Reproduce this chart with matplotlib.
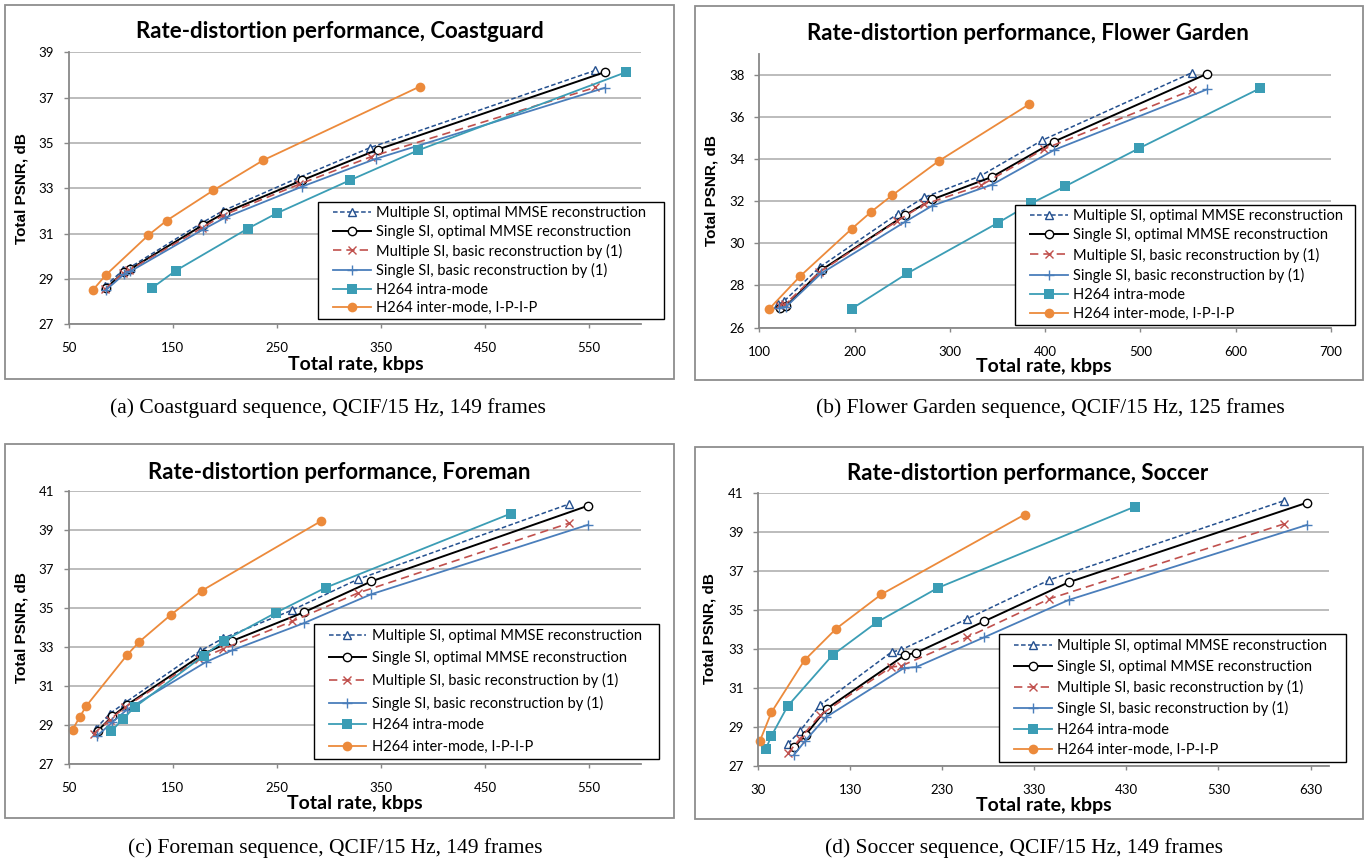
import matplotlib
matplotlib.use('Agg')
import matplotlib.pyplot as plt
from matplotlib.patches import Rectangle

W, H = 1369, 863
DPI = 100

# ---- Coastguard (a) ----
cg_mo_rate = [85, 102, 108.5, 177, 198, 270, 340, 556]
cg_mo_psnr = [28.68, 29.38, 29.5, 31.45, 32.0, 33.45, 34.8, 38.2]
cg_so_rate = [86, 103, 109, 179, 200, 274, 347, 565]
cg_so_psnr = [28.6, 29.3, 29.43, 31.38, 31.92, 33.35, 34.71, 38.12]
cg_mb_rate = [85, 102, 108, 178, 198, 271, 341, 556]
cg_mb_psnr = [28.55, 29.25, 29.38, 31.25, 31.8, 33.17, 34.4, 37.45]
cg_sb_rate = [86, 103, 109, 179, 200, 274, 345, 565]
cg_sb_psnr = [28.52, 29.2, 29.33, 31.18, 31.7, 33.07, 34.3, 37.43]
cg_intra_rate = [130, 153, 222, 250, 320, 386, 586]
cg_intra_psnr = [28.6, 29.37, 31.22, 31.9, 33.35, 34.68, 38.13]
cg_inter_rate = [73, 86, 126.5, 144, 189, 237, 387.5]
cg_inter_psnr = [28.5, 29.19, 30.93, 31.57, 32.91, 34.24, 37.49]

# ---- Flower Garden (b) ----
fg_mo_rate = [120, 126, 163.5, 245.5, 272.8, 332, 397, 554]
fg_mo_psnr = [27.1, 27.25, 28.87, 31.41, 32.18, 33.2, 34.9, 38.11]
fg_so_rate = [122, 128, 165.8, 253.3, 281.7, 344.3, 409.6, 570]
fg_so_psnr = [26.95, 27.0, 28.75, 31.35, 32.09, 33.16, 34.84, 38.06]
fg_mb_rate = [121, 127, 163, 245, 273, 332.9, 398.6, 554.3]
fg_mb_psnr = [27.05, 27.1, 28.62, 31.07, 31.85, 32.76, 34.48, 37.29]
fg_sb_rate = [121, 128, 165, 253.3, 281.7, 344.3, 409.6, 570]
fg_sb_psnr = [26.95, 26.98, 28.57, 31.03, 31.79, 32.79, 34.44, 37.32]
fg_intra_rate = [197, 255.3, 350.7, 385.4, 421, 498.2, 626]
fg_intra_psnr = [26.89, 28.57, 30.98, 31.9, 32.71, 34.51, 37.38]
fg_inter_rate = [110, 143, 197.3, 217.8, 239.7, 288.6, 383.6]
fg_inter_psnr = [26.86, 28.44, 30.7, 31.51, 32.29, 33.92, 36.62]

# ---- Foreman (c) ----
fm_mo_rate = [76, 89.5, 104, 176.5, 198.5, 265, 328, 531]
fm_mo_psnr = [28.8, 29.57, 30.13, 32.8, 33.45, 34.9, 36.48, 40.35]
fm_so_rate = [78, 92, 106, 179.6, 206.7, 275.8, 340.8, 549.2]
fm_so_psnr = [28.7, 29.44, 30.02, 32.65, 33.3, 34.78, 36.37, 40.26]
fm_mb_rate = [74, 89.7, 104, 175, 198.3, 265, 328.3, 530.8]
fm_mb_psnr = [28.55, 29.27, 29.9, 32.36, 32.9, 34.32, 35.78, 39.36]
fm_sb_rate = [77.5, 91.7, 106, 181.7, 206.7, 275.8, 340.8, 549.2]
fm_sb_psnr = [28.44, 29.12, 29.78, 32.22, 32.82, 34.22, 35.71, 39.28]
fm_intra_rate = [90.8, 102.1, 113.3, 179.6, 199.2, 248.75, 297, 474.6]
fm_intra_psnr = [28.66, 29.3, 29.9, 32.55, 33.32, 34.75, 36.05, 39.85]
fm_inter_rate = [53.75, 60.8, 67.1, 106.3, 117.9, 147.9, 177.9, 292.5]
fm_inter_psnr = [28.75, 29.42, 29.98, 32.6, 33.27, 34.64, 35.89, 39.47]

# ---- Soccer (d) ----
sc_mo_rate = [62.5, 75.5, 97, 175, 185.3, 257, 346.5, 601.2]
sc_mo_psnr = [28.15, 28.8, 30.12, 32.86, 32.97, 34.56, 36.56, 40.62]
sc_so_rate = [69, 82, 104.5, 189.3, 201.6, 275.8, 367.5, 626.2]
sc_so_psnr = [27.97, 28.63, 29.95, 32.7, 32.82, 34.44, 36.44, 40.52]
sc_mb_rate = [62.5, 75.7, 97.3, 174.5, 185.7, 257.4, 346.5, 601.2]
sc_mb_psnr = [27.67, 28.42, 29.62, 32.09, 32.15, 33.62, 35.59, 39.43]
sc_sb_rate = [69, 81.5, 103.8, 188.5, 201.8, 275.8, 367.3, 626.2]
sc_sb_psnr = [27.58, 28.32, 29.52, 32.04, 32.09, 33.62, 35.53, 39.38]
sc_intra_rate = [38.5, 44.6, 62.1, 111.1, 158.8, 225.3, 439.4]
sc_intra_psnr = [27.89, 28.56, 30.08, 32.71, 34.38, 36.15, 40.32]
sc_inter_rate = [31.9, 44.6, 80.5, 114.9, 164, 319.6]
sc_inter_psnr = [28.28, 29.77, 32.44, 34.06, 35.82, 39.91]

series_labels = ['Multiple SI, optimal MMSE reconstruction',
                 'Single SI, optimal MMSE reconstruction',
                 'Multiple SI, basic reconstruction by (1)',
                 'Single SI, basic reconstruction by (1)',
                 'H264 intra-mode',
                 'H264 inter-mode, I-P-I-P']

# line styles per series (same order as labels)
styles = [
    dict(color='#24508F', ls=(0, (3, 1.6)), lw=1.1, marker='^', ms=6, mfc='white', mew=1.0),
    dict(color='black', ls='-', lw=1.4, marker='o', ms=6, mfc='white', mew=1.0),
    dict(color='#C0504D', ls=(0, (5, 3)), lw=1.2, marker='x', ms=6, mew=1.0),
    dict(color='#4A7EBB', ls='-', lw=1.3, marker='+', ms=7.5, mew=1.0),
    dict(color='#3B9DB5', ls='-', lw=1.3, marker='s', ms=6.5, mfc='#3B9DB5', mew=0),
    dict(color='#EC8A3B', ls='-', lw=1.3, marker='o', ms=7, mfc='#EC8A3B', mew=0),
]

FONT = 'Lato'
GRAY = '#888888'


def fx(px):
    return px / W


def fy(py):
    return 1 - py / H


fig = plt.figure(figsize=(W / DPI, H / DPI), dpi=DPI)


def draw_panel(frame, box, data, xlim, xticks, ylim, yticks, title, title_xy,
               xlabel_xy, ylabel_xy, leg_box, leg_rows, caption, caption_xy):
    # outer chart frame (Excel style)
    fx0, fy0, fx1, fy1 = frame
    fig.patches.append(Rectangle((fx(fx0), fy(fy1)), (fx1 - fx0) / W, (fy1 - fy0) / H,
                                 transform=fig.transFigure, fill=False,
                                 edgecolor='#8E8E8E', lw=1.3, zorder=0))

    l, t, r, b = box
    ax = fig.add_axes([fx(l), fy(b), (r - l) / W, (b - t) / H])
    handles = []
    for (xs, ys), st in zip(data, styles):
        h, = ax.plot(xs, ys, clip_on=False, **st)
        handles.append(h)

    ax.set_xlim(*xlim)
    ax.set_ylim(*ylim)
    ax.set_xticks(xticks)
    ax.set_yticks(yticks)
    ax.grid(axis='y', color='#A9A9A9', lw=1.1)
    ax.set_axisbelow(True)
    for s in ['top', 'right']:
        ax.spines[s].set_visible(False)
    for s in ['left', 'bottom']:
        ax.spines[s].set_color(GRAY)
        ax.spines[s].set_linewidth(1.3)
    ax.tick_params(axis='y', direction='out', length=3.5, width=1, color=GRAY,
                   labelsize=9.5, pad=7)
    ax.tick_params(axis='x', direction='out', length=3, width=1, color=GRAY,
                   labelsize=9.5, pad=10)
    for lab in ax.get_xticklabels() + ax.get_yticklabels():
        lab.set_family(FONT)

    fig.text(fx(title_xy[0]), fy(title_xy[1]), title, ha='center', va='center',
             fontsize=16, fontweight='bold', family=FONT)
    fig.text(fx(xlabel_xy[0]), fy(xlabel_xy[1]), 'Total rate, kbps', ha='center',
             va='center', fontsize=14, fontweight='bold', family=FONT)
    fig.text(fx(ylabel_xy[0]), fy(ylabel_xy[1]), 'Total PSNR, dB', ha='center',
             va='center', rotation=90, fontsize=11, fontweight='bold',
             family='Liberation Sans')

    # legend frame drawn separately so the inner padding can match
    ll, lt, lr, lb = leg_box
    ax.add_patch(Rectangle((fx(ll), fy(lb)), (lr - ll) / W, (lb - lt) / H,
                           transform=fig.transFigure, facecolor='white',
                           edgecolor='black', lw=1.0, zorder=8, clip_on=False))
    first, last = leg_rows
    pitch_px = (last - first) / 5
    fs = 10.5
    fs_px = fs * DPI / 72
    lsp = (pitch_px - 1.02 * fs_px) / fs_px
    leg = ax.legend(handles, series_labels, loc='center left',
                    bbox_to_anchor=(fx(ll + 15), fy((first + last) / 2)),
                    bbox_transform=fig.transFigure, frameon=False,
                    borderpad=0, borderaxespad=0, handlelength=2.6,
                    handletextpad=0.35, labelspacing=lsp,
                    prop={'family': FONT, 'size': fs})
    leg.set_zorder(10)

    fig.text(fx(caption_xy[0]), fy(caption_xy[1]), caption, ha='center', va='center',
             fontsize=15.5, family='Liberation Serif')


draw_panel((5, 5, 674, 379), (68.7, 52.3, 641, 324.3),
           [(cg_mo_rate, cg_mo_psnr), (cg_so_rate, cg_so_psnr),
            (cg_mb_rate, cg_mb_psnr), (cg_sb_rate, cg_sb_psnr),
            (cg_intra_rate, cg_intra_psnr), (cg_inter_rate, cg_inter_psnr)],
           (50, 600), [50, 150, 250, 350, 450, 550], (27, 39), [27, 29, 31, 33, 35, 37, 39],
           'Rate-distortion performance, Coastguard', (340, 32),
           (356, 364), (22, 189), (318, 202, 664, 319), (212.3, 309.3),
           '(a) Coastguard sequence, QCIF/15 Hz, 149 frames', (328, 408))

draw_panel((695, 6, 1363, 380), (759.2, 54, 1331, 327.5),
           [(fg_mo_rate, fg_mo_psnr), (fg_so_rate, fg_so_psnr),
            (fg_mb_rate, fg_mb_psnr), (fg_sb_rate, fg_sb_psnr),
            (fg_intra_rate, fg_intra_psnr), (fg_inter_rate, fg_inter_psnr)],
           (100, 700), [100, 200, 300, 400, 500, 600, 700], (26, 39), [26, 28, 30, 32, 34, 36, 38],
           'Rate-distortion performance, Flower Garden', (1028, 33),
           (1044, 366), (711, 191), (1015, 205, 1355, 325), (215, 315.3),
           '(b) Flower Garden sequence, QCIF/15 Hz, 125 frames', (1050, 408))

draw_panel((5, 444, 674, 818), (68.7, 491.3, 641, 763.7),
           [(fm_mo_rate, fm_mo_psnr), (fm_so_rate, fm_so_psnr),
            (fm_mb_rate, fm_mb_psnr), (fm_sb_rate, fm_sb_psnr),
            (fm_intra_rate, fm_intra_psnr), (fm_inter_rate, fm_inter_psnr)],
           (50, 600), [50, 150, 250, 350, 450, 550], (27, 41), [27, 29, 31, 33, 35, 37, 39, 41],
           'Rate-distortion performance, Foreman', (339, 472),
           (355, 803), (22, 628), (313.5, 624, 659, 759), (635, 748.3),
           '(c) Foreman sequence, QCIF/15 Hz, 149 frames', (335, 848))

draw_panel((695, 447, 1363, 819), (758, 493.3, 1329, 766.3),
           [(sc_mo_rate, sc_mo_psnr), (sc_so_rate, sc_so_psnr),
            (sc_mb_rate, sc_mb_psnr), (sc_sb_rate, sc_sb_psnr),
            (sc_intra_rate, sc_intra_psnr), (sc_inter_rate, sc_inter_psnr)],
           (30, 650), [30, 130, 230, 330, 430, 530, 630], (27, 41), [27, 29, 31, 33, 35, 37, 39, 41],
           'Rate-distortion performance, Soccer', (1028, 473),
           (1044, 805), (709, 629), (999, 634, 1346, 762), (645.3, 751),
           '(d) Soccer sequence, QCIF/15 Hz, 149 frames', (1024, 848))

fig.savefig('out.png', dpi=DPI)
